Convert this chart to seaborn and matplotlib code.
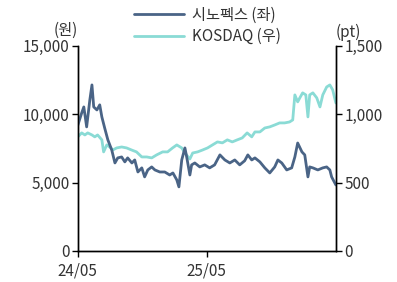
import matplotlib
matplotlib.use("Agg")
import matplotlib.pyplot as plt
import matplotlib.dates as mdates
from matplotlib.ticker import FuncFormatter
import seaborn as sns
import pandas as pd

sns.set_style("white")
plt.rcParams['font.family'] = ['Noto Sans CJK KR', 'DejaVu Sans']

# 시노펙스 (좌, 원)
sino_dates = ["2024-05-01", "2024-05-12", "2024-05-18", "2024-05-26", "2024-06-04", "2024-06-10",
              "2024-06-15", "2024-06-24", "2024-07-02", "2024-07-08", "2024-07-16", "2024-07-25",
              "2024-08-05", "2024-08-14", "2024-08-22", "2024-09-02", "2024-09-11", "2024-09-19",
              "2024-10-01", "2024-10-09", "2024-10-18", "2024-10-29", "2024-11-06", "2024-11-15",
              "2024-11-26", "2024-12-05", "2024-12-19", "2025-01-02", "2025-01-16", "2025-01-25",
              "2025-02-05", "2025-02-11", "2025-02-19", "2025-02-28", "2025-03-05", "2025-03-14",
              "2025-03-19", "2025-03-28", "2025-04-11", "2025-04-25", "2025-05-09", "2025-05-23",
              "2025-06-07", "2025-06-21", "2025-07-05", "2025-07-19", "2025-08-02", "2025-08-16",
              "2025-08-25", "2025-09-05", "2025-09-14", "2025-09-28", "2025-10-12", "2025-10-26",
              "2025-11-09", "2025-11-18", "2025-11-29", "2025-12-13", "2025-12-27", "2026-01-05",
              "2026-01-13", "2026-01-25", "2026-02-02", "2026-02-11", "2026-02-16", "2026-02-25",
              "2026-03-11", "2026-03-25", "2026-04-05", "2026-04-14", "2026-04-19", "2026-05-01"]
sino_values = [9200, 10100, 10540, 9080, 11050, 12150,
               10540, 10320, 10690, 9810, 9000, 8130,
               7390, 6440, 6810, 6880, 6520, 6810,
               6440, 6660, 5780, 6080, 5420, 5930,
               6150, 5930, 5780, 5780, 5560, 5710,
               5200, 4690, 6660, 7540, 6880, 5560,
               6300, 6440, 6150, 6300, 6080, 6300,
               7030, 6660, 6440, 6660, 6300, 6600,
               7030, 6660, 6810, 6520, 6080, 5710,
               6150, 6660, 6440, 5930, 6080, 6880,
               7900, 7250, 7030, 5420, 6150, 6080,
               5930, 6080, 6150, 5930, 5420, 4830]

# KOSDAQ (우, pt)
kq_dates = ["2024-05-01", "2024-05-12", "2024-05-21", "2024-05-29", "2024-06-10", "2024-06-18",
            "2024-06-26", "2024-07-08", "2024-07-13", "2024-07-22", "2024-07-30", "2024-08-08",
            "2024-08-19", "2024-09-02", "2024-09-16", "2024-09-30", "2024-10-14", "2024-10-29",
            "2024-11-12", "2024-11-26", "2024-12-10", "2024-12-27", "2025-01-10", "2025-01-24",
            "2025-02-05", "2025-02-19", "2025-02-28", "2025-03-14", "2025-03-22", "2025-04-05",
            "2025-04-19", "2025-05-03", "2025-05-17", "2025-05-31", "2025-06-14", "2025-06-28",
            "2025-07-12", "2025-07-26", "2025-08-09", "2025-08-23", "2025-09-05", "2025-09-14",
            "2025-09-28", "2025-10-12", "2025-10-26", "2025-11-09", "2025-11-23", "2025-12-07",
            "2025-12-21", "2025-12-30", "2026-01-05", "2026-01-13", "2026-01-19", "2026-01-27",
            "2026-02-05", "2026-02-11", "2026-02-16", "2026-02-25", "2026-03-08", "2026-03-17",
            "2026-03-25", "2026-04-05", "2026-04-14", "2026-04-22", "2026-05-01"]
kq_values = [835, 864, 849, 864, 849, 835,
             849, 813, 725, 776, 761, 739,
             754, 761, 754, 739, 725, 688,
             688, 681, 703, 725, 725, 754,
             776, 754, 717, 673, 717, 725,
             739, 754, 776, 798, 791, 813,
             798, 813, 827, 864, 835, 871,
             871, 900, 908, 922, 937, 937,
             944, 959, 1142, 1091, 1120, 1157,
             1142, 981, 1142, 1157, 1120, 1054,
             1142, 1200, 1215, 1179, 1083]

tick_dates = ["2024-05-01", "2025-05-01"]
tick_labels = ["24/05", "25/05"]
left_ticks = [0, 5000, 10000, 15000]
right_ticks = [0, 500, 1000, 1500]

sino = pd.DataFrame({"date": pd.to_datetime(sino_dates), "value": sino_values})
kq = pd.DataFrame({"date": pd.to_datetime(kq_dates), "value": kq_values})

dark = "#4a6486"
light = "#8adbd5"
text_c = "#333333"
fs = 11

fig = plt.figure(figsize=(3.97, 2.82), dpi=100)
ax = fig.add_axes([0.196, 0.110, 0.650, 0.727])
ax2 = ax.twinx()

sns.lineplot(data=kq, x="date", y="value", ax=ax2, color=light, linewidth=2.0, label="KOSDAQ (우)", legend=False)
sns.lineplot(data=sino, x="date", y="value", ax=ax, color=dark, linewidth=2.0, label="시노펙스 (좌)", legend=False)

ax.set_zorder(ax2.get_zorder() + 1)
ax.patch.set_visible(False)

ax.set_xlim(sino["date"].min(), sino["date"].max())
ax.set_ylim(0, 15000)
ax2.set_ylim(0, 1500)
ax.set_yticks(left_ticks)
ax2.set_yticks(right_ticks)
ax.yaxis.set_major_formatter(FuncFormatter(lambda v, p: f"{int(v):,}"))
ax2.yaxis.set_major_formatter(FuncFormatter(lambda v, p: f"{int(v):,}"))
ax.set_xticks(pd.to_datetime(tick_dates))
ax.set_xticklabels(tick_labels)

for a in (ax, ax2):
    a.set_xlabel("")
    a.set_ylabel("")
    for s in a.spines.values():
        s.set_color("black")
        s.set_linewidth(1.0)
    a.spines["top"].set_visible(False)
    a.tick_params(length=4, width=1.0, colors="black", labelcolor=text_c, labelsize=fs, pad=2)
ax.tick_params(axis="y", left=True, right=False)
ax.tick_params(axis="x", bottom=True, pad=4)
ax2.tick_params(axis="y", right=True, left=False)

fig.text(0.196, 0.862, "(원)", ha="right", va="bottom", fontsize=fs, color=text_c)
fig.text(0.846, 0.855, "(pt)", ha="left", va="bottom", fontsize=fs, color=text_c)

h1, l1 = ax.get_legend_handles_labels()
h2, l2 = ax2.get_legend_handles_labels()
fig.legend(h1 + h2, l1 + l2, loc="upper left", bbox_to_anchor=(0.302, 1.025), frameon=False,
           fontsize=fs, handlelength=3.3, handletextpad=0.5, labelspacing=0.3,
           labelcolor=text_c)

fig.savefig("out.png", dpi=100)
